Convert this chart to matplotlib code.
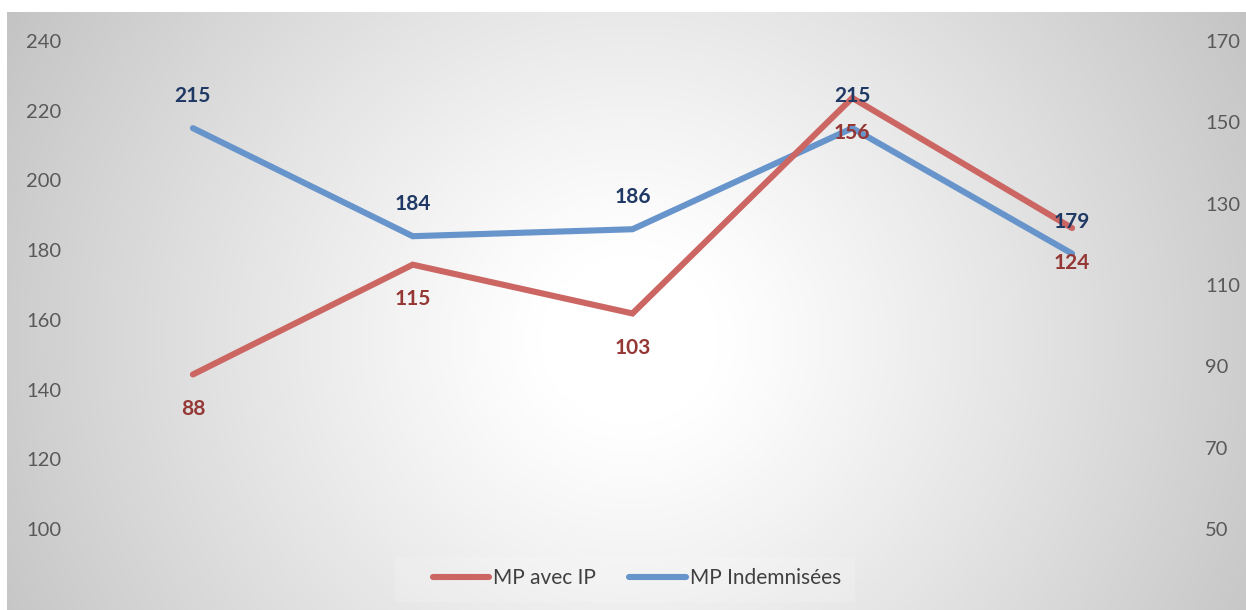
import numpy as np
import matplotlib
matplotlib.use("Agg")
import matplotlib.pyplot as plt
from matplotlib.patches import Rectangle

# ---- data ----
categories = ["1", "2", "3", "4", "5"]
mp_indemnisees = [215, 184, 186, 215, 179]   # left axis
mp_avec_ip = [88, 115, 103, 156, 124]        # right axis
left_ticks = [100, 120, 140, 160, 180, 200, 220, 240]
right_ticks = [50, 70, 90, 110, 130, 150, 170]

W, H = 1246, 610
plt.rcParams['font.family'] = ['Lato', 'DejaVu Sans']

fig = plt.figure(figsize=(W / 100, H / 100), dpi=100)
fig.patch.set_facecolor('white')

# background radial gradient
bg = fig.add_axes([7 / W, 0, 1 - 7 / W, 598 / H])
bg.set_axis_off()
nx, ny = 600, 300
xs = np.linspace(7, W, nx)
ys = np.linspace(12, H, ny)
X, Y = np.meshgrid(xs, ys)
r = np.sqrt(((X - 630) / 1.0) ** 2 + ((Y - 340) / 0.95) ** 2)
t = np.clip((r - 90) / 640, 0, 1) ** 1.1
val = 1.0 - (1.0 - 0.76) * t
img = np.dstack([val, val, val])
bg.imshow(img, aspect='auto', extent=(0, 1, 0, 1), origin='upper', interpolation='bilinear')
bg.set_xlim(0, 1)
bg.set_ylim(0, 1)
# lighter legend band
bg.add_patch(Rectangle(((395 - 7) / (W - 7), (H - 602) / 598), 460 / (W - 7), 45 / 598,
                       facecolor='white', alpha=0.15, edgecolor='none'))

ax = fig.add_axes([83 / W, (H - 529) / H, (1182 - 83) / W, (529 - 41) / H])
ax.patch.set_alpha(0)
x = np.arange(len(categories))
blue = '#6794CA'
red = '#CC6663'
lb, = ax.plot(x, mp_indemnisees, color=blue, lw=4.4, solid_capstyle='round',
              solid_joinstyle='miter', clip_on=False, label='MP Indemnisées')
ax.set_xlim(-0.5, len(categories) - 0.5)
ax.set_ylim(100, 240)
ax.set_yticks(left_ticks)
ax.set_xticks([])

ax2 = ax.twinx()
ax2.patch.set_alpha(0)
lr, = ax2.plot(x, mp_avec_ip, color=red, lw=4.4, solid_capstyle='round',
               solid_joinstyle='miter', clip_on=False, label='MP avec IP')
ax2.set_ylim(50, 170)
ax2.set_yticks(right_ticks)

for a in (ax, ax2):
    for s in a.spines.values():
        s.set_visible(False)
ax.tick_params(axis='y', length=0, pad=15.5, labelsize=14.5, labelcolor='#595959')
ax2.tick_params(axis='y', length=0, pad=16.5, labelsize=14.5, labelcolor='#595959')

for i, v in enumerate(mp_indemnisees):
    ax2.annotate(str(v), xy=(i, v), xycoords=ax.transData, xytext=(0, 23),
                 textcoords='offset points', ha='center', va='center',
                 fontsize=15, fontweight='bold', color='#1F3864', zorder=10)
for i, v in enumerate(mp_avec_ip):
    ax2.annotate(str(v), xy=(i, v), xycoords=ax2.transData, xytext=(0, -25),
                 textcoords='offset points', ha='center', va='center',
                 fontsize=15, fontweight='bold', color='#953735', zorder=10)

leg = fig.legend([lr, lb], ['MP avec IP', 'MP Indemnisées'], loc='center',
                 bbox_to_anchor=(637 / W, 1 - 578 / H), ncol=2, frameon=False,
                 fontsize=15, handlelength=2.7, handletextpad=0.2, columnspacing=1.6)
for t_ in leg.get_texts():
    t_.set_color('#404040')

fig.savefig('out.png', dpi=100)
